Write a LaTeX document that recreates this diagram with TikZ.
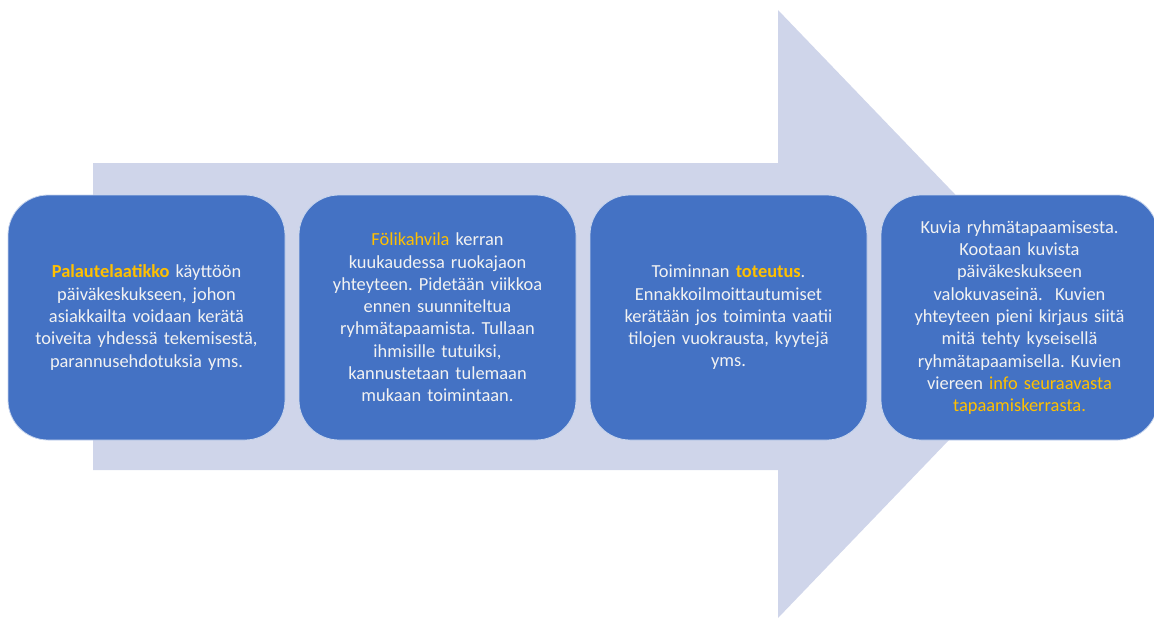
\documentclass[tikz,border=0pt]{standalone}
\usepackage{fontspec}
\setmainfont{Carlito}
\usetikzlibrary{positioning}
\definecolor{boxblue}{HTML}{4472C4}
\definecolor{arrowgray}{HTML}{CFD5EA}
\definecolor{hlyellow}{HTML}{FFC000}
\newcommand{\yel}[1]{\textcolor{hlyellow}{#1}}
\frenchspacing

\begin{document}
\begin{tikzpicture}[x=1pt,y=-1pt,node distance=291pt,
  main node/.style={rectangle,rounded corners=40pt,fill=boxblue,draw=white!70!boxblue,line width=0.8pt,
    minimum width=277pt,minimum height=245pt,text width=270pt,align=center,text=white!95!black,
    font=\fontsize{18.4}{22.3}\selectfont}]

  \useasboundingbox (0,0) rectangle (1154,619);
  % big arrow behind the steps
  \fill[arrowgray] (93,163) -- (778,163) -- (778,10) -- (1070,314) -- (778,618) -- (778,470) -- (93,470) -- cycle;

  \node[main node] (1) at (146.5,317.5) {\textbf{\yel{Palautelaatikko}} käyttöön\\ päiväkeskukseen, johon\\ asiakkailta voidaan kerätä\\ toiveita yhdessä tekemisestä,\\ parannusehdotuksia yms.};
  \node[main node] (2) [right of=1] {\yel{Fölikahvila} kerran\\ kuukaudessa ruokajaon\\ yhteyteen. Pidetään viikkoa\\ ennen suunniteltua\\ ryhmätapaamista. Tullaan\\ ihmisille tutuiksi,\\ kannustetaan tulemaan\\ mukaan toimintaan.};
  \node[main node] (3) [right of=2] {Toiminnan \textbf{\yel{toteutus}}.\\ Ennakkoilmoittautumiset\\ kerätään jos toiminta vaatii\\ tilojen vuokrausta, kyytejä\\ yms.};
  \node[main node] (4) [right of=3] {Kuvia ryhmätapaamisesta.\\ Kootaan kuvista\\ päiväkeskukseen\\ valokuvaseinä.\ \ Kuvien\\ yhteyteen pieni kirjaus siitä\\ mitä tehty kyseisellä\\ ryhmätapaamisella. Kuvien\\ viereen \yel{info seuraavasta}\\ \yel{tapaamiskerrasta.}};
\end{tikzpicture}
\end{document}
